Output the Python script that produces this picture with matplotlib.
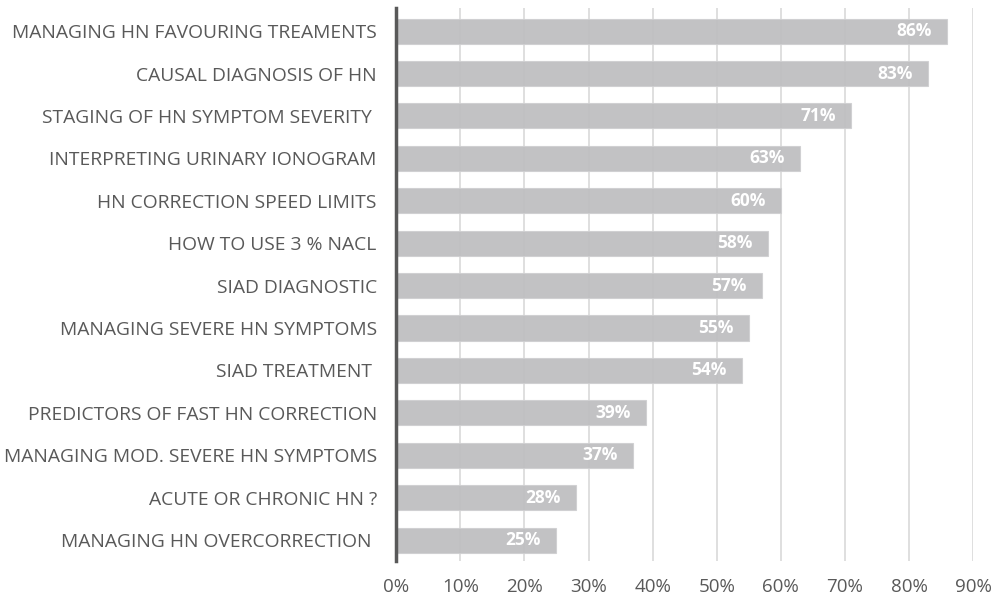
import matplotlib.pyplot as plt
import numpy as np

plt.rcParams['font.family'] = ['Open Sans', 'DejaVu Sans']

topics = [
    "MANAGING HN FAVOURING TREAMENTS",
    "CAUSAL DIAGNOSIS OF HN",
    "STAGING OF HN SYMPTOM SEVERITY ",
    "INTERPRETING URINARY IONOGRAM",
    "HN CORRECTION SPEED LIMITS",
    "HOW TO USE 3 % NACL",
    "SIAD DIAGNOSTIC",
    "MANAGING SEVERE HN SYMPTOMS",
    "SIAD TREATMENT ",
    "PREDICTORS OF FAST HN CORRECTION",
    "MANAGING MOD. SEVERE HN SYMPTOMS",
    "ACUTE OR CHRONIC HN ?",
    "MANAGING HN OVERCORRECTION ",
]
pct = [86, 83, 71, 63, 60, 58, 57, 55, 54, 39, 37, 28, 25]
xticks = [0, 10, 20, 30, 40, 50, 60, 70, 80, 90]

fig = plt.figure(figsize=(9.93, 5.99), dpi=100)
ax = fig.add_axes([0.399, 0.063, 0.581, 0.924])

y = np.arange(len(topics))
ax.barh(y, pct, height=0.59, color='#bfbfc1', edgecolor='#d0d0d2',
        linewidth=0.8, zorder=2, alpha=0.95)

# value labels inside the bar end
for yi, v in zip(y, pct):
    ax.text(v - 2.4, yi, f"{v}%", ha='right', va='center', color='white',
            fontsize=12.5, fontweight='bold', zorder=3)

ax.set_yticks(y)
ax.set_yticklabels(topics, fontsize=13.9, color='#595959')
ax.set_ylim(len(topics) - 0.5, -0.55)
ax.set_xlim(0, 90)
ax.set_xticks(xticks)
ax.set_xticklabels([f"{t}%" for t in xticks], fontsize=13.5, color='#595959')

ax.grid(axis='x', color='#d9d9d9', linewidth=1.2, zorder=1)
ax.tick_params(axis='both', length=0)
ax.tick_params(axis='y', pad=14)
ax.tick_params(axis='x', pad=12)

for side in ['top', 'right', 'bottom']:
    ax.spines[side].set_visible(False)
ax.spines['left'].set_color('#595959')
ax.spines['left'].set_linewidth(2.5)
ax.spines['left'].set_zorder(4)

fig.savefig('out.png', dpi=100)
